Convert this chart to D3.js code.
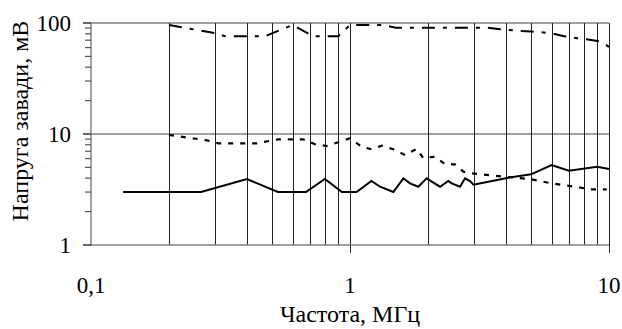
<!DOCTYPE html>
<html><head><meta charset="utf-8">
<script src="https://cdn.jsdelivr.net/npm/d3@7"></script>
<style>body{margin:0;background:#fff}svg{display:block}</style>
</head><body><svg id="c" width="622" height="329" font-family="'Liberation Serif', 'Times New Roman', 'DejaVu Serif', serif"></svg>
<script>
const xTicks = [0.1, 1, 10];
const xTickLabels = ["0,1", "1", "10"];
const yTicks = [1, 10, 100];
const yTickLabels = ["1", "10", "100"];
const xTitle = "Частота, МГц";
const yTitle = "Напруга завади, мВ";
const gridX = [0.2,0.3,0.4,0.5,0.6,0.7,0.8,0.9,1,2,3,4,5,6,7,8,9,10];

const solidX = [0.133,0.266,0.4,0.527,0.676,0.8,0.93,1.06,1.21,1.306,1.47,1.607,1.705,1.835,1.977,2.068,2.226,2.396,2.47,2.66,2.78,2.906,3,4,5,6,7,9,10];
const solidY = [3,3,3.93,3,3,3.93,3,3,3.77,3.35,3,3.99,3.59,3.35,3.99,3.72,3.35,3.77,3.59,3.35,3.99,3.77,3.5,4,4.33,5.26,4.67,5.07,4.84];

const dotX = [0.2,0.28,0.31,0.436,0.529,0.66,0.733,0.813,0.915,1.0,1.11,1.21,1.326,1.47,1.632,1.81,1.92,2.13,2.33,2.54,2.74,2.95,3.63,5,6,7.61,8.5,9.8];
const dotY = [9.8,8.77,8.24,8.24,8.96,8.96,8.08,7.8,8.53,9.15,7.69,7.28,7.85,7.28,6.47,7.33,6.04,6.25,5.33,5.33,4.58,4.43,4.21,3.91,3.59,3.31,3.17,3.17];

const dashX = [0.2,0.3,0.33,0.47,0.6,0.72,0.9,1.0,1.35,1.5,3.4,3.8,4.5,5,6,6.7,7.5,8.3,9.3,10];
const dashY = [96,81,76,76,96,76,76,96,96,90.7,90.7,88,85,84,81,76,73,71,68,61];

const svg = d3.select("#c");
const x = d3.scaleLog().domain([0.1,10]).range([91,609]);
const y = d3.scaleLog().domain([1,100]).range([245,23]);

svg.selectAll(".hg").data([10,100]).enter().append("line")
  .attr("x1",x(0.1)).attr("x2",x(10)).attr("y1",d=>y(d)).attr("y2",d=>y(d))
  .attr("stroke","#808080").attr("stroke-width",1.5);
svg.selectAll(".vg").data(gridX).enter().append("line")
  .attr("x1",d=>Math.round(x(d))+0.5).attr("x2",d=>Math.round(x(d))+0.5)
  .attr("y1",y(1)).attr("y2",y(100))
  .attr("stroke","#222").attr("stroke-width",1);

svg.append("line").attr("x1",x(0.1)).attr("x2",x(0.1)).attr("y1",y(1)+1).attr("y2",y(100))
  .attr("stroke","#808080").attr("stroke-width",1.5);
svg.append("line").attr("x1",x(0.1)).attr("x2",x(10)).attr("y1",y(1)).attr("y2",y(1))
  .attr("stroke","#808080").attr("stroke-width",1.5);

const minor = [];
[1,10].forEach(b=>{for(let k=2;k<=9;k++)minor.push(b*k);});
svg.selectAll(".ymin").data(minor).enter().append("line")
  .attr("x1",x(0.1)-6).attr("x2",x(0.1)).attr("y1",d=>y(d)).attr("y2",d=>y(d))
  .attr("stroke","#555").attr("stroke-width",1.2);
svg.selectAll(".ymaj").data(yTicks).enter().append("line")
  .attr("x1",x(0.1)-8).attr("x2",x(0.1)).attr("y1",d=>y(d)).attr("y2",d=>y(d))
  .attr("stroke","#333").attr("stroke-width",1.5);
svg.selectAll(".yl").data(yTicks).enter().append("text")
  .attr("x",71).attr("y",d=>y(d)+8).attr("text-anchor","end").attr("font-size",23)
  .text((d,i)=>yTickLabels[i]);
svg.selectAll(".xt").data([1,10]).enter().append("line")
  .attr("x1",d=>Math.round(x(d))+0.5).attr("x2",d=>Math.round(x(d))+0.5)
  .attr("y1",y(1)).attr("y2",y(1)+8).attr("stroke","#333").attr("stroke-width",1);
svg.selectAll(".xl").data(xTicks).enter().append("text")
  .attr("x",d=>x(d)).attr("y",293).attr("text-anchor","middle").attr("font-size",23)
  .text((d,i)=>xTickLabels[i]);

svg.append("text").attr("x",350).attr("y",322).attr("text-anchor","middle").attr("font-size",24).text(xTitle);
svg.append("text").attr("transform","translate(28,121) rotate(-90)").attr("text-anchor","middle").attr("font-size",24).text(yTitle);

const line = d3.line().x(d=>x(d[0])).y(d=>y(d[1]));
svg.append("path").datum(dashX.map((v,i)=>[v,dashY[i]])).attr("d",line)
  .attr("fill","none").attr("stroke","#000").attr("stroke-width",2).attr("stroke-dasharray","13,8,4,8");
svg.append("path").datum(dotX.map((v,i)=>[v,dotY[i]])).attr("d",line)
  .attr("fill","none").attr("stroke","#000").attr("stroke-width",2.2).attr("stroke-dasharray","5,7");
svg.append("path").datum(solidX.map((v,i)=>[v,solidY[i]])).attr("d",line)
  .attr("fill","none").attr("stroke","#000").attr("stroke-width",2);
</script></body></html>
